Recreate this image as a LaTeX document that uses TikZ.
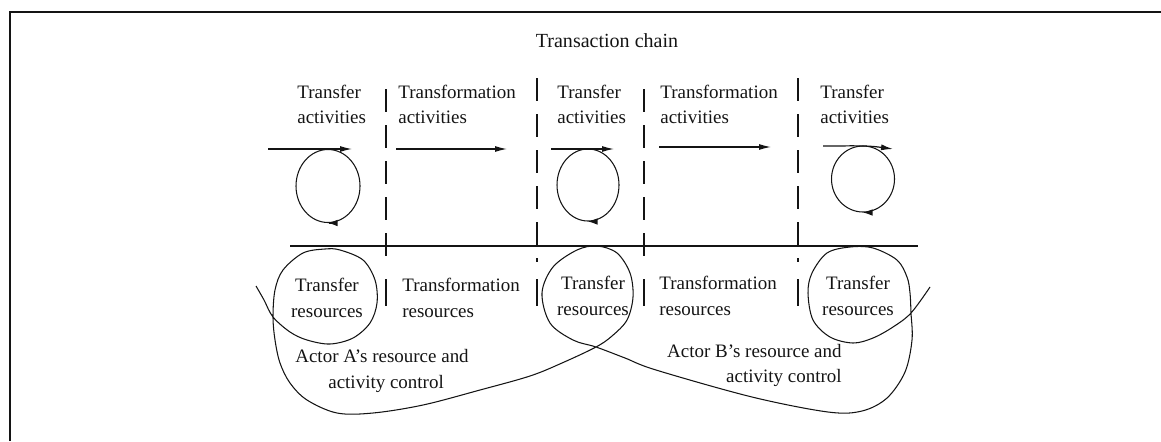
\documentclass[tikz,border=0pt]{standalone}
\usepackage{fontspec}
\setmainfont{Liberation Serif}
\usetikzlibrary{arrows.meta,shapes.geometric}
\definecolor{ink}{HTML}{141414}
\tikzset{
  txt/.style={font=\fontsize{10.8pt}{14.5pt}\selectfont, inner sep=0pt, align=left, text=ink},
  ctxt/.style={txt, align=center},
  heading/.style={txt, font=\fontsize{11.4pt}{14pt}\selectfont},
  loopbox/.style={ellipse, draw=ink, line width=0.6pt, inner sep=0pt},
  flow/.style={-{Latex[length=2.4mm,width=1.2mm]}, line width=0.7pt, draw=ink},
  turn/.style={-{Latex[length=1.9mm,width=1.3mm]}, line width=0.6pt, draw=ink},
  divider/.style={draw=ink, line width=0.7pt, dash pattern=on 0.46cm off 0.26cm},
  tick/.style={draw=ink, line width=0.7pt},
  chainline/.style={draw=ink, line width=0.8pt},
  boxline/.style={draw=ink, line width=1.4pt},
  ctrlcurve/.style={draw=ink, line width=0.6pt}
}

\begin{document}
\begin{tikzpicture}

\useasboundingbox (0,0) rectangle (23.22,8.82);
\draw[boxline] (0.2,0) -- (0.2,8.58) -- (23.22,8.58);

\node[heading] (chain) at (12.14,8.00) {Transaction chain};

% Activity headings.
\node[txt, anchor=west] (head1) at (5.94,6.73) {Transfer\\activities};
\node[txt, anchor=west] (head2) at (7.96,6.73) {Transformation\\activities};
\node[txt, anchor=west] (head3) at (11.14,6.73) {Transfer\\activities};
\node[txt, anchor=west] (head4) at (13.20,6.73) {Transformation\\activities};
\node[txt, anchor=west] (head5) at (16.40,6.73) {Transfer\\activities};

% Transfer loops and transformation flows.
\node[loopbox, minimum width=1.28cm, minimum height=1.46cm] (loop1) at (6.56,5.10) {};
\node[loopbox, minimum width=1.24cm, minimum height=1.44cm] (loop3) at (11.76,5.12) {};
\node[loopbox, minimum width=1.26cm, minimum height=1.32cm] (loop5) at (17.26,5.24) {};

\coordinate (in1) at (5.36,5.84);
\coordinate (out1) at (7.04,5.84);
\coordinate (in3) at (11.02,5.84);
\coordinate (out3) at (12.28,5.84);
\coordinate (in5) at (16.46,5.90);
\coordinate (out5) at (17.86,5.84);
\coordinate (tf2s) at (7.92,5.84);
\coordinate (tf2e) at (10.14,5.84);
\coordinate (tf4s) at (13.18,5.88);
\coordinate (tf4e) at (15.42,5.88);

\draw[flow] (in1) -- (out1);
\draw[flow] (in3) -- (out3);
\draw[flow] (in5) to[out=0,in=172] (out5);
\draw[flow] (tf2s) -- (tf2e);
\draw[flow] (tf4s) -- (tf4e);

\foreach \n in {1,3,5} {
  \draw[turn] ([xshift=0.6pt]loop\n.south) -- (loop\n.south);
}

% Dividers and the chain line.
\foreach \x/\y in {7.72/7.04, 10.74/7.26, 12.88/7.04, 15.96/7.26} {
  \draw[divider] (\x,\y) -- (\x,3.58);
  \draw[tick] (\x,3.24) -- (\x,2.70);
}
\draw[chainline] (5.80,3.90) -- (18.36,3.90);

% Resources.
\node[ctxt] (res1) at (6.54,2.86) {Transfer\\resources};
\node[txt, anchor=west] (res2) at (8.04,2.86) {Transformation\\resources};
\node[ctxt] (res3) at (11.86,2.90) {Transfer\\resources};
\node[txt, anchor=west] (res4) at (13.18,2.90) {Transformation\\resources};
\node[ctxt] (res5) at (17.16,2.90) {Transfer\\resources};

\node[txt, anchor=west] (actorA) at (5.90,1.40) {Actor A's resource and\\\hspace*{0.66cm}activity control};
\node[txt, anchor=east, align=right] (actorB) at (16.84,1.51) {Actor B's resource and\\activity control};

% Control boundaries of both actors.
\draw[ctrlcurve] plot[smooth, tension=0.55] coordinates {
  (5.12,3.10) (5.28,2.82) (5.46,2.48) (5.80,2.18) (6.14,2.02) (6.60,1.94)
  (7.06,2.06) (7.40,2.36) (7.54,2.76) (7.50,3.22) (7.26,3.62) (6.80,3.82)
  (6.50,3.84) (6.06,3.76) (5.66,3.42) (5.50,3.02) (5.46,2.48) (5.50,2.02)
  (5.60,1.56) (5.80,1.16) (6.14,0.82) (6.74,0.56) (7.46,0.56) (8.46,0.72)
  (9.60,1.02) (10.60,1.30) (11.24,1.56) (11.92,1.88) (12.24,2.10) (12.54,2.42)
  (12.66,2.88) (12.60,3.36) (12.34,3.76) (11.94,3.90) (11.54,3.82) (11.06,3.48)
  (10.84,2.96) (11.00,2.36) (11.46,2.02) (11.92,1.88) (12.50,1.66) (13.12,1.42)
  (15.04,0.88) (16.56,0.58) (17.24,0.60) (17.74,0.86) (18.10,1.38) (18.24,2.02)
  (18.22,2.56) (18.20,2.96) (18.14,3.28) (17.94,3.62) (17.46,3.86) (17.00,3.88)
  (16.54,3.76) (16.24,3.36) (16.16,2.96) (16.26,2.42) (16.60,2.08) (17.06,1.96)
  (17.46,2.06) (17.86,2.28) (18.22,2.56) (18.60,3.08)
};

\end{tikzpicture}
\end{document}
